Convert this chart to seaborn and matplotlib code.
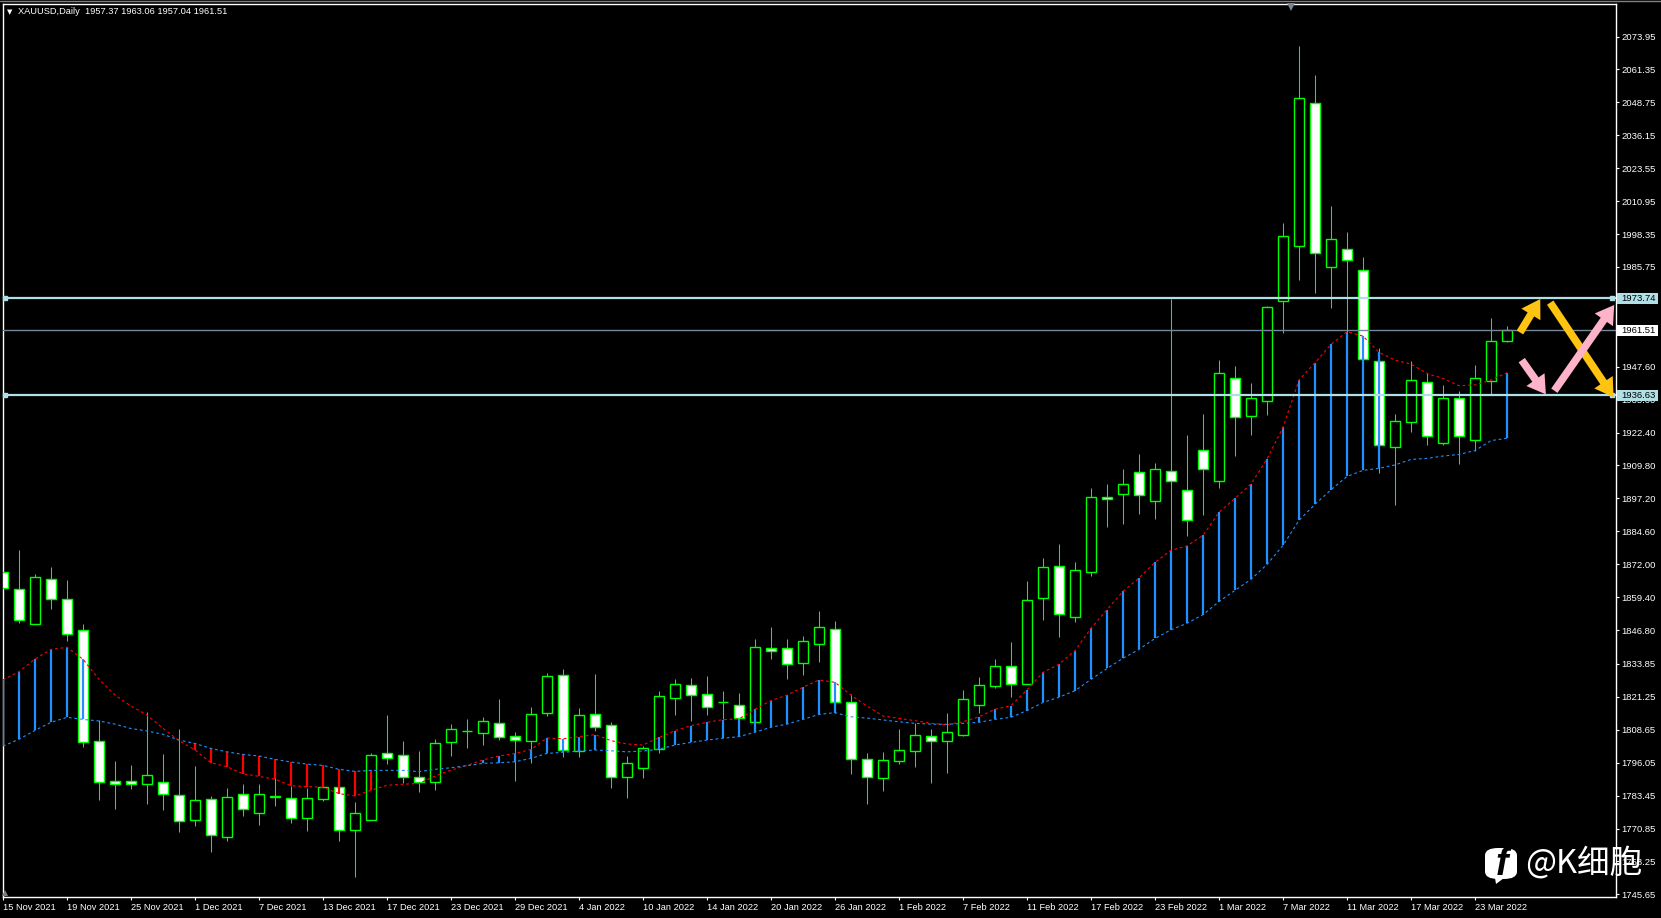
import matplotlib
matplotlib.use("Agg")
import matplotlib.pyplot as plt
from matplotlib.lines import Line2D
from matplotlib.patches import FancyArrowPatch, FancyBboxPatch, Polygon, Rectangle
import numpy as np
import pandas as pd
import seaborn as sns

# daily candles
opens = [1868.9, 1862.4, 1849.2, 1866.5, 1858.6, 1846.7, 1804.2, 1788.9, 1788.9, 1788.0,
         1788.5, 1783.5, 1774.2, 1782.0, 1767.7, 1784.2, 1776.9, 1782.8, 1782.4, 1775.0,
         1782.3, 1786.6, 1770.4, 1774.2, 1799.6, 1799.1, 1790.4, 1788.8, 1804.1, 1808.0,
         1807.5, 1811.1, 1806.1, 1804.5, 1815.2, 1829.5, 1800.5, 1814.5, 1810.3, 1790.7,
         1794.1, 1801.2, 1820.9, 1825.6, 1822.2, 1819.1, 1818.0, 1811.7, 1839.8, 1839.8,
         1834.3, 1841.6, 1847.1, 1819.1, 1797.3, 1790.3, 1796.8, 1800.6, 1806.1, 1804.5,
         1806.8, 1818.2, 1825.5, 1832.9, 1826.3, 1859.2, 1871.2, 1851.9, 1869.1, 1897.8,
         1899.0, 1907.4, 1896.3, 1907.8, 1900.3, 1915.6, 1904.0, 1943.1, 1928.6, 1934.6,
         1972.9, 1993.9, 2048.4, 1985.9, 1992.5, 1984.5, 1949.6, 1917.0, 1926.5, 1941.6,
         1918.5, 1935.5, 1919.4, 1942.0, 1957.37]
closes = [1862.8, 1850.5, 1867.0, 1858.8, 1845.4, 1804.1, 1788.8, 1788.0, 1788.0, 1791.2,
          1784.2, 1773.9, 1781.6, 1768.5, 1782.8, 1778.4, 1783.9, 1783.2, 1775.0, 1782.4,
          1786.6, 1770.4, 1776.7, 1798.9, 1798.0, 1790.7, 1788.8, 1803.4, 1808.8, 1808.0,
          1811.9, 1806.0, 1804.6, 1814.5, 1829.2, 1801.0, 1814.2, 1809.8, 1790.7, 1795.8,
          1801.5, 1821.4, 1826.0, 1822.1, 1817.5, 1819.1, 1813.3, 1840.2, 1838.9, 1833.9,
          1842.5, 1847.8, 1819.1, 1797.3, 1790.7, 1796.9, 1800.8, 1806.5, 1804.5, 1807.7,
          1820.3, 1825.6, 1832.9, 1826.3, 1858.2, 1870.8, 1853.1, 1869.7, 1897.8, 1897.1,
          1902.8, 1898.4, 1908.6, 1903.7, 1888.8, 1908.6, 1945.0, 1928.2, 1935.5, 1970.3,
          1997.5, 2050.3, 1991.0, 1996.3, 1988.3, 1950.4, 1917.5, 1926.9, 1942.4, 1920.9,
          1935.5, 1920.9, 1943.1, 1957.3, 1961.51]
highs = [1870.4, 1877.4, 1868.2, 1870.9, 1866.0, 1849.1, 1812.4, 1796.7, 1795.2, 1815.4,
         1799.4, 1808.9, 1794.8, 1783.3, 1786.2, 1787.9, 1787.9, 1790.0, 1787.2, 1786.2,
         1786.9, 1786.6, 1781.0, 1799.7, 1814.3, 1804.2, 1800.5, 1805.1, 1810.8, 1812.8,
         1813.5, 1820.4, 1807.8, 1817.4, 1830.4, 1831.9, 1817.0, 1830.0, 1811.6, 1798.6,
         1802.4, 1823.5, 1828.1, 1828.5, 1829.2, 1823.5, 1822.7, 1843.2, 1848.0, 1843.4,
         1844.5, 1854.1, 1850.3, 1822.3, 1799.7, 1800.1, 1808.9, 1811.2, 1808.9, 1814.9,
         1823.9, 1828.8, 1835.7, 1842.2, 1865.6, 1874.2, 1879.7, 1872.8, 1901.0, 1902.7,
         1908.4, 1914.2, 1910.6, 1973.5, 1921.4, 1929.4, 1950.1, 1947.9, 1941.3, 1970.8,
         2002.6, 2070.3, 2059.2, 2009.1, 1999.1, 1989.6, 1954.6, 1929.4, 1949.8, 1945.3,
         1940.6, 1938.2, 1948.2, 1966.2, 1963.06]
lows = [1856.0, 1849.6, 1849.2, 1855.0, 1842.7, 1802.0, 1781.8, 1778.3, 1786.0, 1780.2,
        1777.9, 1769.5, 1771.8, 1761.9, 1766.1, 1775.6, 1772.2, 1779.5, 1773.0, 1769.9,
        1781.4, 1766.1, 1752.3, 1774.2, 1795.5, 1788.1, 1784.8, 1785.6, 1798.6, 1801.7,
        1802.8, 1804.7, 1789.0, 1795.9, 1813.9, 1798.3, 1798.3, 1808.2, 1786.4, 1782.7,
        1790.2, 1799.9, 1814.3, 1812.0, 1814.3, 1812.6, 1812.4, 1811.7, 1835.7, 1828.1,
        1829.6, 1834.6, 1814.9, 1791.7, 1780.2, 1785.2, 1795.5, 1794.4, 1788.3, 1792.1,
        1806.3, 1815.1, 1824.6, 1821.2, 1826.3, 1850.6, 1844.1, 1849.9, 1867.6, 1886.4,
        1887.5, 1891.3, 1889.3, 1877.6, 1882.8, 1890.8, 1901.3, 1913.5, 1921.4, 1929.1,
        1960.6, 1980.8, 1975.7, 1970.2, 1959.7, 1947.6, 1907.0, 1894.8, 1922.7, 1917.6,
        1917.7, 1910.5, 1915.4, 1937.1, 1957.04]

# the two moving averages
red_ma = [1827.7, 1830.9, 1835.7, 1839.4, 1840.2, 1835.6, 1827.9, 1821.9, 1817.7, 1814.3,
          1809.2, 1804.5, 1800.9, 1796.0, 1794.5, 1791.8, 1790.8, 1789.7, 1787.2, 1786.9,
          1786.6, 1784.2, 1783.3, 1785.5, 1787.4, 1787.8, 1788.1, 1790.9, 1793.2, 1795.0,
          1797.1, 1798.6, 1799.6, 1801.1, 1805.5, 1805.2, 1806.0, 1806.8, 1804.5, 1803.2,
          1802.8, 1805.7, 1808.3, 1810.2, 1811.5, 1812.5, 1812.8, 1816.5, 1819.8, 1821.9,
          1824.9, 1827.7, 1826.8, 1821.9, 1817.7, 1813.9, 1813.0, 1812.1, 1811.1, 1810.6,
          1811.7, 1813.6, 1816.5, 1817.9, 1823.9, 1830.6, 1833.7, 1838.9, 1847.5, 1854.6,
          1861.6, 1866.7, 1872.7, 1877.3, 1879.0, 1883.0, 1891.9, 1897.2, 1902.7, 1912.3,
          1924.4, 1942.5, 1949.1, 1956.1, 1961.0, 1959.3, 1953.1, 1950.1, 1948.6, 1945.0,
          1943.1, 1940.3, 1940.6, 1942.5, 1945.3]
blue_ma = [1802.4, 1805.0, 1808.4, 1811.5, 1813.4, 1812.6, 1812.0, 1810.8, 1809.1, 1808.2,
           1806.9, 1804.7, 1803.4, 1801.5, 1800.2, 1799.2, 1798.6, 1797.3, 1796.3, 1795.5,
           1795.0, 1793.5, 1792.7, 1793.1, 1793.1, 1793.1, 1792.6, 1793.5, 1794.1, 1794.9,
           1795.8, 1796.0, 1796.4, 1797.7, 1799.6, 1800.0, 1800.5, 1800.9, 1800.6, 1800.2,
           1800.5, 1801.2, 1802.8, 1803.8, 1804.7, 1805.4, 1806.0, 1807.7, 1809.6, 1810.8,
           1812.6, 1814.5, 1815.2, 1813.6, 1813.1, 1812.4, 1811.7, 1811.1, 1810.8, 1810.7,
           1811.1, 1811.5, 1812.6, 1813.4, 1816.0, 1819.1, 1821.1, 1823.6, 1827.9, 1832.1,
           1836.0, 1839.4, 1843.6, 1846.9, 1849.4, 1852.7, 1857.7, 1862.0, 1866.2, 1871.9,
           1879.2, 1888.8, 1894.9, 1900.5, 1905.6, 1907.9, 1908.7, 1910.0, 1912.1, 1912.5,
           1913.4, 1914.0, 1915.5, 1919.3, 1920.2]

# bars where the gap between the averages is filled
blue_hist_bars = list(range(0, 6)) + list(range(30, 38)) + list(range(41, 53)) + list(range(61, 87)) + [94]
red_hist_bars = list(range(12, 24))

date_labels = ['15 Nov 2021', '19 Nov 2021', '25 Nov 2021', '1 Dec 2021', '7 Dec 2021', '13 Dec 2021',
               '17 Dec 2021', '23 Dec 2021', '29 Dec 2021', '4 Jan 2022', '10 Jan 2022', '14 Jan 2022',
               '20 Jan 2022', '26 Jan 2022', '1 Feb 2022', '7 Feb 2022', '11 Feb 2022', '17 Feb 2022',
               '23 Feb 2022', '1 Mar 2022', '7 Mar 2022', '11 Mar 2022', '17 Mar 2022', '23 Mar 2022']
price_ticks = [2073.95, 2061.35, 2048.75, 2036.15, 2023.55, 2010.95, 1998.35, 1985.75, 1973.15,
               1960.55, 1947.60, 1935.00, 1922.40, 1909.80, 1897.20, 1884.60, 1872.00, 1859.40,
               1846.80, 1833.85, 1821.25, 1808.65, 1796.05, 1783.45, 1770.85, 1758.25, 1745.65]
level_lines = [1973.74, 1936.63]
last_price = 1961.51

GREEN = '#00FF00'
LEVEL = '#B0E0E6'
W, H = 1661, 918

sns.set_theme(style='dark', rc={'axes.facecolor': 'black', 'figure.facecolor': 'black'})
plt.rcParams['font.family'] = ['Liberation Sans', 'DejaVu Sans']

fig = plt.figure(figsize=(W / 100, H / 100), dpi=100)
ax = fig.add_axes([3 / W, 1 - 897 / H, (1615.5 - 3) / W, (897 - 3.5) / H])
ax.set_xlim(0, (1615.5 - 3) / 16)
ax.set_ylim(1744.64, 2086.58)

bars = np.arange(len(opens))
df = pd.DataFrame({'bar': bars, 'open': opens, 'close': closes, 'high': highs, 'low': lows,
                   'red': red_ma, 'blue': blue_ma})

# candles: wick first, then the body on top of it
ax.vlines(df['bar'], df['low'], df['high'], color=GREEN, lw=0.75, zorder=2)
body_bottom = df[['open', 'close']].min(axis=1)
body_height = (df['close'] - df['open']).abs()
body_color = np.where(df['close'] < df['open'], 'white', 'black')
ax.bar(df['bar'], body_height, bottom=body_bottom, width=0.64, color=body_color,
       edgecolor=GREEN, linewidth=1.0, zorder=3)

# gap between the averages
blue_df = df[df['bar'].isin(blue_hist_bars)]
red_df = df[df['bar'].isin(red_hist_bars)]
ax.vlines(blue_df['bar'], blue_df['blue'], blue_df['red'], color='#1E90FF', lw=1.6, zorder=4)
ax.vlines(red_df['bar'], red_df['blue'], red_df['red'], color='#FF0000', lw=1.6, zorder=4)

sns.lineplot(data=df, x='bar', y='red', ax=ax, color='#FF0000', lw=0.8, linestyle=(0, (2.5, 2.5)), zorder=5)
sns.lineplot(data=df, x='bar', y='blue', ax=ax, color='#1E90FF', lw=0.8, linestyle=(0, (2.5, 2.5)), zorder=5)

# horizontal levels and price tags
xmax = ax.get_xlim()[1]
ax.axhline(last_price, color='#778899', lw=1.0, zorder=6)
for level in level_lines:
    ax.axhline(level, color=LEVEL, lw=1.6, zorder=6)
    ax.plot([0.15, xmax - 0.2], [level, level], ls='none', marker='s', ms=3.5, color=LEVEL, zorder=7, clip_on=False)

# axes dressing
for side in ['left', 'right', 'top', 'bottom']:
    ax.spines[side].set_color('white')
    ax.spines[side].set_linewidth(1.0)
ax.set_xlabel('')
ax.set_ylabel('')
ax.grid(False)
ax.set_xticks(np.arange(len(date_labels)) * 4)
ax.set_xticklabels(date_labels, ha='left', color='white', fontsize=6.7)
ax.yaxis.tick_right()
ax.set_yticks(price_ticks)
ax.set_yticklabels([f'{p:.2f}' for p in price_ticks], color='white', fontsize=6.8)
ax.tick_params(axis='x', bottom=True, length=2.5, width=0.8, color='white', pad=2)
ax.tick_params(axis='y', right=True, length=2.5, width=0.8, color='white', pad=1.5)

# tags sit on top of the tick labels they hide
tag_left = (1617 - 3) / 16
tag_right = (1658 - 3) / 16
for price, face in [(level_lines[0], LEVEL), (last_price, 'white'), (level_lines[1], LEVEL)]:
    ax.add_patch(Rectangle((tag_left, price - 2.1), tag_right - tag_left, 4.2, fc=face, ec='none', zorder=8,
                           clip_on=False))
    ax.text((1621 - 3) / 16, price, f'{price:.2f}', color='black', fontsize=6.8, va='center', ha='left',
            clip_on=False, zorder=9)

# hand-drawn arrows
arrow_style = 'simple,head_length=13,head_width=16,tail_width=5.5'
arrows = [((94.81, 1960.7), (96.08, 1973.5), '#FFC312'),
          ((96.70, 1972.1), (100.66, 1935.9), '#FFC312'),
          ((94.92, 1950.1), (96.43, 1937.0), '#FFB3C9'),
          ((96.96, 1938.4), (100.70, 1971.2), '#FFB3C9')]
for start, end, col in arrows:
    ax.add_patch(FancyArrowPatch(start, end, arrowstyle=arrow_style, mutation_scale=1, color=col, lw=0,
                                 shrinkA=0, shrinkB=0, zorder=10, clip_on=False))

# title, small chart markers
fig.add_artist(Line2D([0, 1], [1 - 0.5 / H, 1 - 0.5 / H], color='#808080', lw=1.0))
fig.text(17.7 / W, 1 - 11.7 / H, 'XAUUSD,Daily  1957.37 1963.06 1957.04 1961.51', color='white',
         fontsize=6.7, va='center', ha='left')
fig.text(9.5 / W, 1 - 11.7 / H, '\u25bc', color='white', fontsize=5, va='center', ha='center',
         family=['DejaVu Sans'])
ax.plot([80.5], [0.9965], transform=ax.get_xaxis_transform(), marker='v', ms=6, color='#778899', clip_on=False,
        zorder=7, ls='none', mew=0)
ax.plot([0.12], [0.004], transform=ax.get_xaxis_transform(), marker='^', ms=5, color='#808080', clip_on=False,
        zorder=7, ls='none', mew=0)

# watermark
fig.add_artist(FancyBboxPatch((1485 / W, 1 - 879 / H), 32 / W, 31 / H, transform=fig.transFigure,
                              boxstyle='round,pad=0,rounding_size=0.008', fc='white', ec='none', zorder=10))
fig.add_artist(Polygon([[1495 / W, 1 - 878 / H], [1504 / W, 1 - 878 / H], [1496 / W, 1 - 884 / H]],
                       transform=fig.transFigure, fc='white', ec='none', zorder=10))
fig.text(1502 / W, 1 - 865 / H, 'f', color='black', fontsize=27, fontweight='bold', fontstyle='italic', va='center',
         ha='center', zorder=11, family=['Liberation Sans'])
fig.text(1525 / W, 1 - 864 / H, '@K细胞', color='white', fontsize=23.5, va='center', ha='left', zorder=11,
         family=['Noto Sans CJK SC', 'DejaVu Sans'])

fig.savefig('out.png', dpi=100, facecolor='black')
plt.close(fig)
